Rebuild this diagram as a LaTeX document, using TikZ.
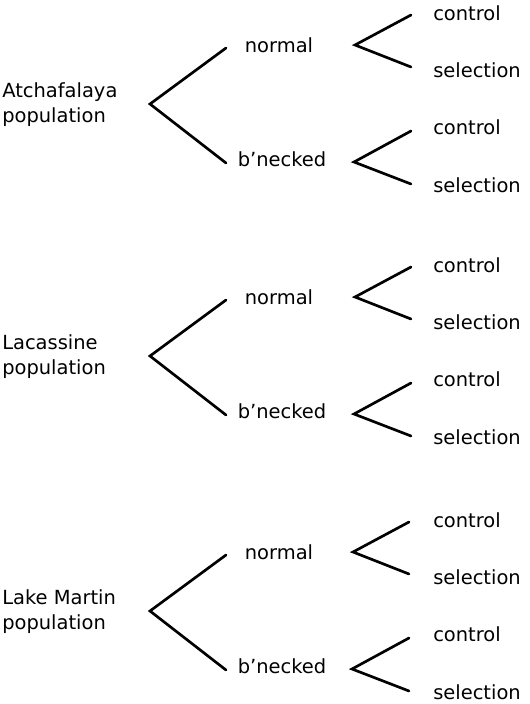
\documentclass[tikz,border=0pt]{standalone}
\usepackage{fontspec}
\setmainfont{DejaVu Sans}
\usepackage{tikz}
\usetikzlibrary{positioning}

\begin{document}
\begin{tikzpicture}[
  x=0.75pt, y=-0.75pt,
  pop/.style={anchor=west, align=left, inner sep=0pt,
    font=\fontsize{14.6}{18.75}\selectfont},
  morph/.style={inner sep=0pt, font=\fontsize{14.6}{17}\selectfont},
  leaf/.style={anchor=west, inner sep=0pt, font=\fontsize{14.6}{17}\selectfont},
  fork/.style={line width=2pt, line cap=round}
]
\useasboundingbox (0,0) rectangle (529,704);
%% --- Atchafalaya ------------------------------------------------------------
\begin{scope}[yshift=0]
\node[pop]   (popA)  at (2,105)   {Atchafalaya\\population};
\node[morph] (normA) at (279,45)  {normal};
\node[morph] (neckA) at (282,159) {b’necked};
\node[leaf]  (cAn)   at (433,13)  {control};
\node[leaf]  (sAn)   at (433,70)  {selection};
\node[leaf]  (cAb)   at (433,127) {control};
\node[leaf]  (sAb)   at (433,185) {selection};
\coordinate (rA)  at (150,104);
\coordinate (rAu) at (226,48);
\coordinate (rAl) at (226,163);
\coordinate (nA)  at (355,45);
\coordinate (nAu) at (411,15);
\coordinate (nAl) at (411,67);
\coordinate (bA)  at (354,162);
\coordinate (bAu) at (411,131);
\coordinate (bAl) at (411,184);
\draw[fork] (rAu) -- (rA) -- (rAl);
\draw[fork] (nAu) -- (nA) -- (nAl);
\draw[fork] (bAu) -- (bA) -- (bAl);
\end{scope}
%% --- Lacassine --------------------------------------------------------------
\begin{scope}[yshift=-189pt]
\node[pop]   (popL)  at (2,105)   {Lacassine\\population};
\node[morph] (normL) at (279,45)  {normal};
\node[morph] (neckL) at (282,159) {b’necked};
\node[leaf]  (cLn)   at (433,13)  {control};
\node[leaf]  (sLn)   at (433,70)  {selection};
\node[leaf]  (cLb)   at (433,127) {control};
\node[leaf]  (sLb)   at (433,185) {selection};
\coordinate (rL)  at (150,104);
\coordinate (rLu) at (226,48);
\coordinate (rLl) at (226,163);
\coordinate (nL)  at (355,45);
\coordinate (nLu) at (411,15);
\coordinate (nLl) at (411,67);
\coordinate (bL)  at (354,162);
\coordinate (bLu) at (411,131);
\coordinate (bLl) at (411,184);
\draw[fork] (rLu) -- (rL) -- (rLl);
\draw[fork] (nLu) -- (nL) -- (nLl);
\draw[fork] (bLu) -- (bL) -- (bLl);
\end{scope}
%% --- Lake Martin ------------------------------------------------------------
\begin{scope}[yshift=-380.25pt]
\node[pop]   (popM)  at (2,105)   {Lake Martin\\population};
\node[morph] (normM) at (279,45)  {normal};
\node[morph] (neckM) at (282,159) {b’necked};
\node[leaf]  (cMn)   at (433,13)  {control};
\node[leaf]  (sMn)   at (433,70)  {selection};
\node[leaf]  (cMb)   at (433,127) {control};
\node[leaf]  (sMb)   at (433,185) {selection};
\coordinate (rM)  at (150,104);
\coordinate (rMu) at (226,48);
\coordinate (rMl) at (226,163);
\coordinate (nM)  at (353,45);
\coordinate (nMu) at (409,15);
\coordinate (nMl) at (409,67);
\coordinate (bM)  at (352,162);
\coordinate (bMu) at (409,131);
\coordinate (bMl) at (409,184);
\draw[fork] (rMu) -- (rM) -- (rMl);
\draw[fork] (nMu) -- (nM) -- (nMl);
\draw[fork] (bMu) -- (bM) -- (bMl);
\end{scope}
\end{tikzpicture}
\end{document}
